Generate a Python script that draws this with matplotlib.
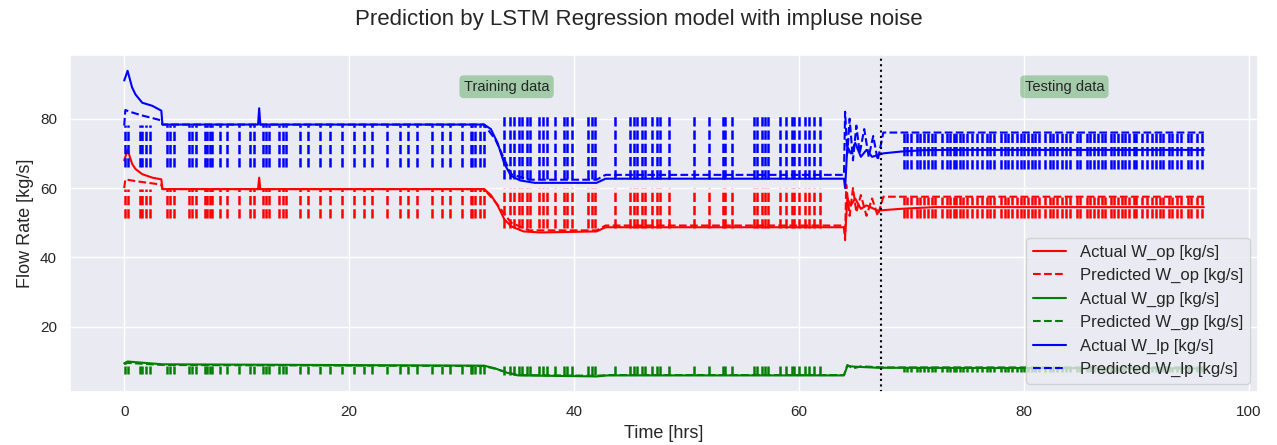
import matplotlib
matplotlib.use("Agg")
from matplotlib import pyplot as plt
import seaborn as sns

sns.set_theme(style="darkgrid")
plt.rcParams['font.family'] = ['Liberation Sans', 'DejaVu Sans']

t_op = [0, 0.3, 0.7, 1.0, 1.6, 2.5, 3.3, 3.4, 11.9, 12.0, 12.1, 32.0, 32.6, 33.2, 33.8, 34.4, 35.5,
        37.0, 42.0, 42.8, 64.0, 64.1, 64.3, 64.6, 65.0, 65.5, 66.0, 67.0, 69.0, 72.0, 96.0]
act_op = [68, 71, 67, 65.5, 64, 63, 62.5, 59.7, 59.7, 63, 59.7, 59.7, 58, 55, 51, 49, 47.5,
          47.2, 47.5, 48.7, 48.7, 46.3, 57, 55, 57, 54, 55, 53.5, 54, 54.5, 54.5]

t_gp = [0, 0.3, 3.4, 32.0, 33.0, 34.0, 35.0, 42.0, 43.0, 64.0, 64.3, 65.0, 67.0, 96.0]
act_gp = [9.5, 10, 9.2, 8.8, 8.0, 6.8, 6.0, 5.7, 6.0, 6.0, 8.7, 8.5, 8.2, 8.0]

t_lp = [0, 0.3, 0.7, 1.0, 1.6, 2.5, 3.3, 3.4, 11.9, 12.0, 12.1, 32.0, 32.6, 33.2, 33.8, 34.4, 35.2,
        36.5, 42.0, 42.8, 64.0, 64.1, 64.3, 64.6, 65.0, 65.5, 66.0, 66.5, 67.5, 69.0, 71.0, 73.0, 96.0]
act_lp = [91, 93.8, 89, 87, 84.6, 83.7, 82.3, 78.3, 78.3, 83, 78.3, 78.3, 77, 73, 67, 63.5, 62.2,
          61.5, 61.5, 62.7, 62.7, 60, 72, 70, 73, 69, 71, 69, 70, 70.5, 70.9, 71, 71]

# predicted series, base path
tp_op = [0, 0.1, 1.0, 3.3, 3.4, 32.0, 33.0, 34.4, 36.0, 42.0, 42.8, 64.0, 64.1, 64.2, 64.5, 64.8,
         65.1, 65.5, 66.0, 66.5, 67.0, 67.5, 96.0]
pred_op = [60, 62.5, 62, 61, 59.7, 59.7, 56, 50, 47.8, 47.8, 49.2, 49.2, 45, 61, 52, 60,
           53, 58, 52, 57, 52, 57.5, 57.5]

tp_gp = [0, 0.3, 3.4, 32.0, 33.0, 34.0, 35.0, 42.0, 43.0, 64.0, 64.3, 64.8, 65.5, 67.5, 96.0]
pred_gp = [9.2, 9.6, 9.0, 8.7, 7.9, 6.9, 6.1, 5.9, 6.1, 6.1, 9.0, 8.0, 8.6, 8.3, 8.3]

tp_lp = [0, 0.1, 0.5, 1.0, 1.5, 3.3, 3.4, 32.0, 33.0, 34.4, 36.0, 42.0, 42.8, 64.0, 64.1, 64.3,
         64.5, 64.8, 65.1, 65.4, 65.8, 66.2, 66.6, 67.0, 67.5, 96.0]
pred_lp = [78, 82.5, 82, 81.5, 81, 79.5, 78.3, 78.3, 74, 64, 62.4, 62.4, 63.8, 63.8, 82, 70,
           80, 68, 78, 70, 77, 69, 75, 68, 76, 76]

# impulse spike times [hrs]
spk_train1 = [0.1, 0.3, 1.4, 1.6, 1.9, 2.3, 3.8, 4.1, 4.4, 5.8, 6.0, 6.4, 7.2, 7.4, 7.6, 7.8,
              8.5, 9.1, 10.2, 11.2, 11.5, 12.3, 12.6, 12.9, 13.8, 14.1, 14.4, 15.6, 16.3,
              17.4, 18.3, 19.4, 20.4, 21.3, 22.0, 23.4, 24.5, 25.2, 26.0, 27.4, 28.3, 29.0,
              30.0, 30.8, 30.9, 31.2, 31.6, 32.0]
spk_train2 = [33.8, 34.3, 34.7, 35.1, 35.4, 35.8, 36.1, 36.9, 37.2, 37.6, 38.3, 39.1, 39.4,
              39.8, 41.2, 41.6, 41.9, 43.6, 45.0, 45.3, 45.6, 46.0, 46.3, 46.9, 47.4, 47.6,
              48.4, 50.7, 52.0, 53.2, 53.4, 54.0, 56.0, 56.3, 56.7, 57.0, 57.2, 58.3, 58.8,
              59.4, 59.6, 60.0, 60.5, 60.9, 61.3, 61.9]
spk_test = [69.3, 69.6, 70.0, 70.5, 70.8, 71.1, 71.5, 71.8, 72.1, 72.7, 73.2, 73.4, 73.8, 74.0,
            74.3, 74.6, 74.9, 75.4, 75.8, 76.3, 76.7, 77.0, 77.3, 78.0, 78.3, 78.6, 78.9,
            79.4, 79.7, 80.0, 80.4, 80.7, 81.0, 81.3, 81.9, 82.3, 82.6, 82.9, 83.4, 83.7,
            84.1, 84.7, 85.0, 85.6, 85.9, 86.2, 86.6, 86.9, 87.2, 87.7, 88.0, 88.4, 88.7,
            89.0, 89.3, 89.8, 90.0, 90.5, 90.9, 91.4, 91.7, 92.1, 92.4, 92.9, 93.2, 93.6,
            94.0, 94.6, 94.9, 95.4, 95.8]

# spike ranges (low, high) per series and stretch
rng_op = [(51.3, 59.7), (48.5, 60.0), (51.3, 57.5)]
rng_gp = [(6.3, 8.8), (6.0, 8.8), (7.0, 8.4)]
rng_lp = [(66.0, 78.3), (62.5, 80.8), (65.5, 76.0)]

split_t = 67.3

fig, ax = plt.subplots(figsize=(12.77, 4.45), dpi=100)
fig.subplots_adjust(left=0.055, right=0.985, top=0.876, bottom=0.119)

groups = [(t_op, act_op, tp_op, pred_op, rng_op, 'red', 'W_op'),
          (t_gp, act_gp, tp_gp, pred_gp, rng_gp, 'green', 'W_gp'),
          (t_lp, act_lp, tp_lp, pred_lp, rng_lp, 'blue', 'W_lp')]

for t_a, y_a, t_p, y_p, rng, col, name in groups:
    ax.plot(t_a, y_a, color=col, lw=1.5, label='Actual %s [kg/s]' % name)
    ax.plot(t_p, y_p, color=col, lw=1.5, ls='--', label='Predicted %s [kg/s]' % name)
    for spk, (lo, hi) in zip([spk_train1, spk_train2, spk_test], rng):
        ax.vlines(spk, lo, hi, colors=col, linestyles='dashed', lw=1.8)

ax.axvline(split_t, color='black', ls=':', lw=1.5)
ax.text(34, 89.2, 'Training data', ha='center', va='center', fontsize=10.5,
        bbox=dict(boxstyle='round', facecolor='green', edgecolor='none', alpha=0.3))
ax.text(83.6, 89.2, 'Testing data', ha='center', va='center', fontsize=10.5,
        bbox=dict(boxstyle='round', facecolor='green', edgecolor='none', alpha=0.3))

ax.set_xlim(-4.8, 100.8)
ax.set_ylim(1.2, 98.3)
ax.set_xlabel('Time [hrs]', fontsize=13)
ax.set_ylabel('Flow Rate [kg/s]', fontsize=13)
ax.tick_params(labelsize=11)
ax.legend(loc='lower right', fontsize=12)
fig.suptitle('Prediction by LSTM Regression model with impluse noise', fontsize=16)

plt.savefig('out.png')
